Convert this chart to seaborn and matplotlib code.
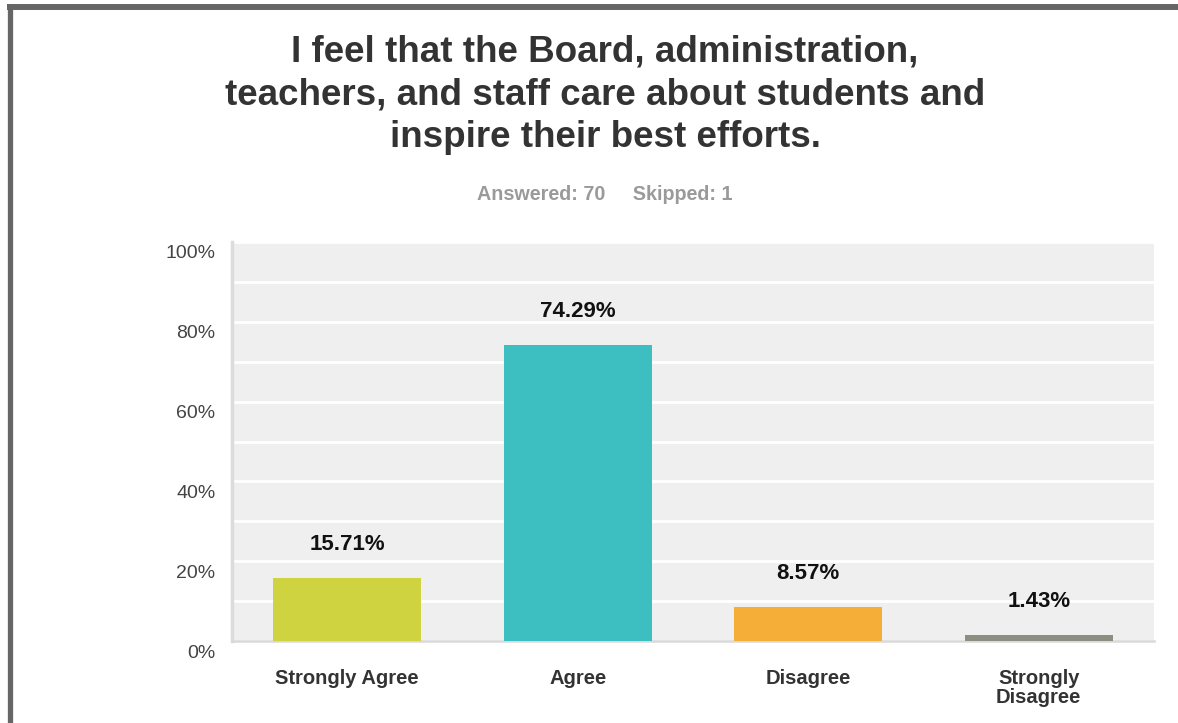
import matplotlib
matplotlib.use("Agg")
import matplotlib.pyplot as plt
import matplotlib.transforms as mtransforms
from matplotlib.lines import Line2D
import seaborn as sns
import pandas as pd

categories = ["Strongly Agree", "Agree", "Disagree", "Strongly\nDisagree"]
values = [15.71, 74.29, 8.57, 1.43]
value_labels = ["15.71%", "74.29%", "8.57%", "1.43%"]
colors = ["#cfd33f", "#3dbfc1", "#f5ae37", "#8b8e80"]
title = "I feel that the Board, administration,\nteachers, and staff care about students and\ninspire their best efforts."
subtitle = "Answered: 70     Skipped: 1"

sns.set_theme(style="white")
plt.rcParams["font.family"] = ["Liberation Sans", "DejaVu Sans"]

fig = plt.figure(figsize=(11.78, 7.23), dpi=100)
W, H = 1178, 723
ax = fig.add_axes([232 / W, 1 - 641 / H, (1154 - 232) / W, (641 - 242) / H])

df = pd.DataFrame({"cat": categories, "val": values})
sns.barplot(data=df, x="cat", y="val", hue="cat", palette=colors, legend=False,
            width=0.64, ax=ax, saturation=1, edgecolor="none", zorder=3)

ax.set_facecolor("#efefef")
ax.set_xlim(-0.5, 3.5)
ax.set_ylim(0, 100)
ax.set_yticks(range(0, 101, 10))
ax.set_yticklabels([f"{t}%" if t % 20 == 0 else "" for t in range(0, 101, 10)])
ax.yaxis.grid(True, color="white", linewidth=2, zorder=1)
ax.set_axisbelow(True)
ax.set_xlabel("")
ax.set_ylabel("")
for s in ["top", "right"]:
    ax.spines[s].set_visible(False)
ax.spines["left"].set_color("#dcdcdc")
ax.spines["left"].set_linewidth(2.5)
ax.spines["bottom"].set_color("#d9d9d9")
ax.spines["bottom"].set_linewidth(1.8)
ax.tick_params(axis="y", length=0, pad=12, labelsize=14, labelcolor="#444444")
ax.tick_params(axis="x", length=0, pad=20, labelsize=14.5, labelcolor="#333333")
offset = mtransforms.ScaledTranslation(0, -0.1, fig.dpi_scale_trans)
for lab in ax.get_yticklabels():
    lab.set_transform(lab.get_transform() + offset)
for lab in ax.get_xticklabels():
    lab.set_fontweight("bold")
    lab.set_linespacing(1.0)

for i, (v, lab) in enumerate(zip(values, value_labels)):
    ax.annotate(lab, xy=(i, v), xytext=(0, 24), textcoords="offset points",
                ha="center", va="center", fontsize=16, fontweight="bold", color="#111111")

fig.text(605 / W, 1 - 95 / H, title, ha="center", va="center", fontsize=26.5,
         fontweight="bold", color="#333333", linespacing=1.28)
fig.text(605 / W, 1 - 194 / H, subtitle, ha="center", va="center", fontsize=14.2,
         fontweight="bold", color="#9a9a9a")

fig.add_artist(Line2D([9.5 / W, 9.5 / W], [0, 1 - 4 / H], transform=fig.transFigure,
                      color="#666666", linewidth=3.8, solid_capstyle="butt"))
fig.add_artist(Line2D([7 / W, 1], [1 - 7 / H, 1 - 7 / H], transform=fig.transFigure,
                      color="#666666", linewidth=4.3, solid_capstyle="butt"))

fig.savefig("out.png", dpi=100)
